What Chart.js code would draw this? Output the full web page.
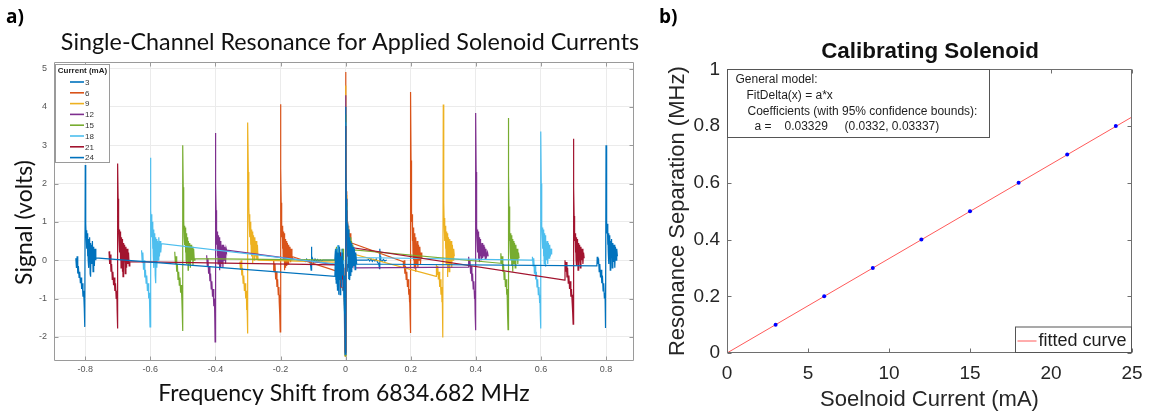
<!DOCTYPE html>
<html><head><meta charset="utf-8">
<script src="https://cdn.jsdelivr.net/npm/chart.js@4.4.1/dist/chart.umd.min.js"></script>
<style>
html,body{margin:0;padding:0;background:#fff;}
body{width:1160px;height:418px;position:relative;overflow:hidden;}
#wrapA{position:absolute;left:0;top:0;width:696px;height:418px;}
#wrapB{position:absolute;left:650px;top:0;width:510px;height:418px;}
.lab{position:absolute;font-family:'Open Sans',sans-serif;font-weight:700;font-size:19px;line-height:22px;color:#000;}
</style></head><body>
<div id="wrapB"><canvas id="cB"></canvas></div>
<div id="wrapA"><canvas id="cA"></canvas></div>
<div class="lab" style="left:6px;top:5px">a)</div>
<div class="lab" style="left:659px;top:5px">b)</div>
<script>
// ---------------- data: panel a ----------------
const currents = [3, 6, 9, 12, 15, 18, 21, 24];
const xTicksA = [-0.8, -0.6, -0.4, -0.2, 0, 0.2, 0.4, 0.6, 0.8];
const xTickLabelsA = ['-0.8', '-0.6', '-0.4', '-0.2', '0', '0.2', '0.4', '0.6', '0.8'];
const yTicksA = [-2, -1, 0, 1, 2, 3, 4, 5];
const yTickLabelsA = ['-2', '-1', '0', '1', '2', '3', '4', '5'];

const s3 = [
 [-0.128,0.02],[-0.124,-0.03],[-0.120,0.03],[-0.116,-0.02],[-0.112,0.0],[-0.108,-0.1],[-0.106,-0.26],[-0.105,0.35],[-0.104,0.1],[-0.102,0.05],[-0.098,-0.05],[-0.094,0.03],[-0.090,-0.02],[-0.086,0.02],[-0.082,-0.03],[-0.078,0.01],[-0.074,-0.02],[-0.070,0.0],
 [-0.033,0.0],[-0.031,0.3],[-0.029,-0.5],[-0.027,0.2],[-0.025,-0.7],[-0.023,0.39],[-0.021,-0.4],[-0.019,0.1],[-0.017,-0.9],[-0.015,0.2],[-0.013,-0.6],[-0.011,0.3],[-0.009,-0.8],[-0.007,0.0],[-0.005,-0.5],[-0.004,-0.96],[-0.003,-1.5],[-0.002,-2.0],[-0.001,-2.48],[0.000,2.28],[0.001,1.5],[0.002,1.0],[0.003,0.5],[0.004,0.9],[0.005,0.2],[0.006,0.8],[0.007,-0.3],[0.008,0.7],[0.009,-0.5],[0.010,0.6],[0.011,-0.2],[0.012,0.5],[0.014,-0.4],[0.016,0.4],[0.018,-0.2],[0.020,0.3],[0.022,0.0],[0.024,0.2],[0.026,-0.1],[0.028,0.1],[0.030,0.0],
 [0.066,0.0],[0.070,0.02],[0.074,-0.02],[0.078,0.03],[0.082,-0.03],[0.086,0.02],[0.090,-0.02],[0.094,0.03],[0.098,-0.05],[0.102,-0.1],[0.104,-0.22],[0.105,0.3],[0.106,0.1],[0.108,0.0],[0.112,-0.03],[0.116,0.02],[0.120,-0.02],[0.126,0.0]
];
const s6 = [
 [-0.223,-0.26],[-0.221,0.0],[-0.219,-0.3],[-0.217,-0.1],[-0.215,-0.5],[-0.213,-0.3],[-0.211,-0.7],[-0.209,-0.5],[-0.207,-0.9],[-0.205,-0.7],[-0.204,-1.1],[-0.203,-0.9],[-0.202,-1.4],[-0.201,-1.87],[-0.200,4.07],[-0.199,2.4],[-0.198,1.5],[-0.197,0.96],[-0.196,0.6],[-0.195,0.9],[-0.194,0.3],[-0.193,0.85],[-0.192,0.1],[-0.191,0.75],[-0.190,0.0],[-0.189,0.7],[-0.188,-0.26],[-0.187,0.6],[-0.186,-0.1],[-0.185,0.55],[-0.184,-0.2],[-0.183,0.5],[-0.181,-0.15],[-0.179,0.45],[-0.177,-0.1],[-0.175,0.4],[-0.173,0.0],[-0.171,0.35],[-0.169,-0.05],[-0.167,0.3],[-0.165,0.0],[-0.163,0.09],
 [-0.030,-0.28],[-0.028,0.1],[-0.026,-0.4],[-0.024,0.2],[-0.022,-0.6],[-0.020,0.1],[-0.018,-0.5],[-0.016,0.2],[-0.014,-0.7],[-0.012,0.0],[-0.010,-0.6],[-0.008,-0.2],[-0.006,-0.9],[-0.004,-0.6],[-0.003,-1.4],[-0.002,-2.0],[-0.001,-2.5],[0.000,4.91],[0.001,2.9],[0.002,1.8],[0.003,1.2],[0.004,1.4],[0.005,0.7],[0.006,1.0],[0.007,0.4],[0.008,0.9],[0.009,0.2],[0.010,0.8],[0.012,0.3],[0.014,0.7],[0.016,0.4],[0.018,0.45],
 [0.177,-0.04],[0.178,-0.2],[0.180,0.0],[0.182,-0.35],[0.184,-0.15],[0.186,-0.5],[0.188,-0.3],[0.190,-0.7],[0.192,-0.5],[0.194,-0.9],[0.195,-0.75],[0.196,-1.1],[0.197,-0.9],[0.198,-1.45],[0.199,-1.9],[0.200,4.39],[0.201,2.6],[0.202,1.6],[0.203,1.0],[0.204,1.2],[0.205,0.5],[0.206,0.9],[0.207,0.2],[0.208,0.85],[0.209,0.0],[0.210,0.75],[0.211,-0.2],[0.212,0.7],[0.213,-0.1],[0.214,0.6],[0.215,-0.3],[0.216,0.55],[0.218,-0.1],[0.220,0.5],[0.222,-0.2],[0.224,0.4],[0.226,0.0],[0.228,0.35],[0.230,-0.1],[0.232,0.2],[0.234,0.05]
];
const s9 = [
 [-0.325,-0.04],[-0.323,-0.25],[-0.321,0.0],[-0.319,-0.4],[-0.317,-0.2],[-0.315,-0.6],[-0.313,-0.4],[-0.311,-0.8],[-0.309,-0.6],[-0.307,-1.0],[-0.305,-0.8],[-0.304,-1.3],[-0.303,-1.1],[-0.302,-1.6],[-0.301,-1.91],[-0.300,3.59],[-0.299,2.3],[-0.298,1.6],[-0.297,1.39],[-0.296,0.9],[-0.295,1.2],[-0.294,0.6],[-0.293,1.0],[-0.292,0.4],[-0.291,0.9],[-0.290,0.2],[-0.289,0.8],[-0.288,0.1],[-0.287,0.75],[-0.286,-0.09],[-0.285,0.7],[-0.284,0.2],[-0.283,0.65],[-0.281,0.0],[-0.279,0.6],[-0.277,0.1],[-0.275,0.5],[-0.273,0.0],[-0.271,0.4],[-0.269,0.0],
 [-0.030,-0.05],[-0.028,0.2],[-0.026,-0.3],[-0.024,0.1],[-0.022,-0.5],[-0.020,0.2],[-0.018,-0.6],[-0.016,0.0],[-0.014,-0.4],[-0.012,-0.1],[-0.010,-0.7],[-0.008,-0.3],[-0.006,-0.9],[-0.004,-0.6],[-0.003,-1.3],[-0.002,-1.9],[-0.001,-2.5],[0.000,4.56],[0.001,2.7],[0.002,1.7],[0.003,1.1],[0.004,1.3],[0.005,0.6],[0.006,0.9],[0.007,0.2],[0.008,0.8],[0.009,0.0],[0.010,0.6],[0.012,0.1],[0.014,0.5],[0.016,0.0],[0.018,0.4],[0.020,0.1],[0.022,0.3],[0.024,0.16],
 [0.278,-0.42],[0.279,-0.1],[0.281,-0.37],[0.283,-0.15],[0.285,-0.5],[0.287,-0.3],[0.289,-0.7],[0.291,-0.5],[0.293,-0.9],[0.295,-0.7],[0.296,-1.1],[0.297,-0.9],[0.298,-1.5],[0.299,-2.02],[0.300,4.06],[0.301,2.4],[0.302,1.5],[0.303,0.9],[0.304,1.1],[0.305,0.5],[0.306,0.9],[0.307,0.3],[0.308,0.8],[0.309,-0.1],[0.310,0.75],[0.311,0.0],[0.312,0.7],[0.313,-0.44],[0.314,0.65],[0.315,-0.2],[0.316,0.6],[0.318,-0.3],[0.320,0.55],[0.322,-0.1],[0.324,0.5],[0.326,-0.2],[0.328,0.4],[0.330,0.0],[0.332,0.3],[0.334,0.1]
];
const s12 = [
 [-0.427,0.13],[-0.425,-0.15],[-0.423,0.05],[-0.421,-0.35],[-0.419,-0.15],[-0.417,-0.55],[-0.415,-0.35],[-0.413,-0.75],[-0.411,-0.55],[-0.409,-0.95],[-0.407,-0.75],[-0.405,-1.2],[-0.403,-1.0],[-0.402,-1.5],[-0.401,-2.13],[-0.400,3.32],[-0.399,2.0],[-0.398,1.3],[-0.397,0.78],[-0.396,0.4],[-0.395,0.75],[-0.394,0.1],[-0.393,0.7],[-0.392,-0.1],[-0.391,0.65],[-0.390,0.0],[-0.389,0.6],[-0.388,-0.26],[-0.387,0.55],[-0.386,-0.1],[-0.385,0.5],[-0.384,-0.2],[-0.383,0.45],[-0.381,-0.1],[-0.379,0.4],[-0.377,-0.2],[-0.375,0.4],[-0.373,0.0],[-0.371,0.35],[-0.369,-0.1],[-0.367,0.3],[-0.366,0.26],
 [-0.020,-0.13],[-0.018,0.2],[-0.016,-0.4],[-0.014,0.1],[-0.012,-0.6],[-0.010,0.0],[-0.008,-0.5],[-0.006,-0.9],[-0.004,-0.6],[-0.003,-1.3],[-0.002,-1.8],[-0.001,-2.45],[0.000,4.30],[0.001,2.5],[0.002,1.6],[0.003,1.0],[0.004,1.3],[0.005,0.5],[0.006,0.9],[0.007,0.1],[0.008,0.8],[0.009,-0.2],[0.010,0.6],[0.012,-0.1],[0.014,0.5],[0.016,-0.2],[0.018,0.3],[0.020,-0.1],[0.022,0.2],[0.025,-0.1],[0.028,0.1],[0.030,-0.2],
 [0.377,-0.18],[0.378,0.09],[0.380,-0.15],[0.382,0.0],[0.384,-0.35],[0.386,-0.15],[0.388,-0.55],[0.390,-0.35],[0.392,-0.75],[0.394,-0.55],[0.396,-1.0],[0.397,-0.8],[0.398,-1.4],[0.399,-1.83],[0.400,3.84],[0.401,2.3],[0.402,1.4],[0.403,0.87],[0.404,0.5],[0.405,0.8],[0.406,0.2],[0.407,0.75],[0.408,0.04],[0.409,0.7],[0.410,0.1],[0.411,0.6],[0.412,-0.05],[0.413,0.55],[0.414,0.1],[0.415,0.5],[0.417,0.0],[0.419,0.45],[0.421,0.05],[0.423,0.4],[0.425,0.1],[0.427,0.35],[0.429,0.04],[0.431,0.3],[0.433,0.1],[0.436,0.2],[0.438,0.1]
];
const s15 = [
 [-0.525,0.22],[-0.523,-0.1],[-0.521,0.1],[-0.519,-0.3],[-0.517,-0.1],[-0.515,-0.5],[-0.513,-0.3],[-0.511,-0.65],[-0.509,-0.45],[-0.507,-0.85],[-0.505,-0.65],[-0.503,-1.05],[-0.502,-1.35],[-0.501,-1.85],[-0.500,3.0],[-0.499,1.9],[-0.498,1.3],[-0.497,1.04],[-0.496,0.6],[-0.495,0.9],[-0.494,0.4],[-0.493,0.85],[-0.492,0.2],[-0.491,0.75],[-0.490,0.0],[-0.489,0.7],[-0.488,-0.1],[-0.487,0.6],[-0.486,0.1],[-0.485,0.55],[-0.484,-0.26],[-0.483,0.5],[-0.481,-0.1],[-0.479,0.45],[-0.477,-0.2],[-0.475,0.4],[-0.473,0.0],[-0.471,0.35],[-0.469,-0.15],[-0.467,0.3],[-0.465,0.0],[-0.463,0.04],
 [-0.030,0.0],[-0.028,0.35],[-0.026,-0.3],[-0.024,0.2],[-0.022,-0.5],[-0.020,0.3],[-0.018,-0.4],[-0.016,0.15],[-0.014,-0.6],[-0.012,0.1],[-0.010,-0.5],[-0.008,0.3],[-0.007,-0.2],[-0.006,-0.8],[-0.004,-0.5],[-0.003,-1.2],[-0.002,-1.7],[-0.001,-2.5],[0.000,3.8],[0.001,2.2],[0.002,1.5],[0.003,1.0],[0.004,1.2],[0.005,0.5],[0.006,0.9],[0.007,0.2],[0.008,0.8],[0.009,0.0],[0.010,0.7],[0.012,0.1],[0.014,0.6],[0.016,0.0],[0.018,0.5],[0.020,0.1],[0.022,0.4],[0.024,0.2],[0.026,0.27],
 [0.476,-0.08],[0.477,0.18],[0.479,-0.1],[0.481,0.1],[0.483,-0.3],[0.485,-0.1],[0.487,-0.5],[0.489,-0.3],[0.491,-0.7],[0.493,-0.5],[0.495,-0.9],[0.496,-0.75],[0.497,-1.1],[0.498,-1.4],[0.499,-1.81],[0.500,3.71],[0.501,2.2],[0.502,1.4],[0.503,0.78],[0.504,0.5],[0.505,0.75],[0.506,0.2],[0.507,0.7],[0.508,0.0],[0.509,0.65],[0.510,-0.15],[0.511,0.6],[0.512,0.1],[0.513,0.55],[0.514,-0.3],[0.515,0.5],[0.517,-0.1],[0.519,0.45],[0.521,-0.2],[0.523,0.4],[0.525,0.0],[0.527,0.3],[0.529,-0.1],[0.531,0.2],[0.533,0.05]
];
const s18 = [
 [-0.627,0.26],[-0.625,-0.05],[-0.623,0.2],[-0.621,-0.25],[-0.619,0.0],[-0.617,-0.45],[-0.615,-0.25],[-0.613,-0.6],[-0.611,-0.4],[-0.609,-0.8],[-0.607,-0.6],[-0.605,-1.0],[-0.603,-0.85],[-0.602,-1.3],[-0.601,-1.74],[-0.600,2.67],[-0.599,1.8],[-0.598,1.3],[-0.597,0.9],[-0.596,1.2],[-0.595,0.6],[-0.594,1.0],[-0.593,0.3],[-0.592,0.9],[-0.591,0.1],[-0.590,0.8],[-0.589,-0.2],[-0.588,0.7],[-0.587,0.0],[-0.586,0.65],[-0.585,-0.4],[-0.584,0.6],[-0.583,-0.6],[-0.582,0.55],[-0.580,-0.2],[-0.578,0.5],[-0.576,0.0],[-0.574,0.6],[-0.572,0.1],[-0.570,0.5],[-0.568,0.2],[-0.566,0.43],
 [-0.030,-0.1],[-0.028,0.3],[-0.026,-0.3],[-0.024,0.39],[-0.022,-0.5],[-0.020,0.2],[-0.018,-0.6],[-0.016,0.1],[-0.014,-0.4],[-0.012,0.25],[-0.010,-0.7],[-0.008,0.0],[-0.006,-0.96],[-0.004,-0.5],[-0.003,-1.3],[-0.002,-1.8],[-0.001,-2.45],[0.000,3.6],[0.001,2.1],[0.002,1.4],[0.003,0.9],[0.004,1.1],[0.005,0.3],[0.006,0.9],[0.007,-0.1],[0.008,0.8],[0.009,-0.3],[0.010,0.7],[0.011,-0.45],[0.012,0.5],[0.014,-0.2],[0.016,0.4],[0.018,-0.1],[0.020,0.3],[0.022,-0.05],[0.024,0.25],[0.026,0.0],[0.028,0.2],[0.030,0.07],
 [0.573,0.0],[0.574,0.09],[0.576,-0.15],[0.578,0.05],[0.580,-0.35],[0.582,-0.15],[0.584,-0.5],[0.586,-0.3],[0.588,-0.7],[0.590,-0.5],[0.592,-0.9],[0.594,-0.7],[0.596,-1.1],[0.597,-0.9],[0.598,-1.4],[0.599,-1.78],[0.600,3.36],[0.601,2.0],[0.602,1.3],[0.603,0.91],[0.604,0.6],[0.605,0.85],[0.606,0.3],[0.607,0.8],[0.608,0.1],[0.609,0.75],[0.610,-0.1],[0.611,0.7],[0.612,0.2],[0.613,0.65],[0.614,-0.17],[0.615,0.55],[0.617,0.0],[0.619,0.5],[0.621,-0.1],[0.623,0.45],[0.625,0.05],[0.627,0.4],[0.629,0.1],[0.631,0.3],[0.633,0.15]
];
const s21 = [
 [-0.727,0.23],[-0.725,-0.1],[-0.723,0.15],[-0.721,-0.3],[-0.719,-0.1],[-0.717,-0.5],[-0.715,-0.3],[-0.713,-0.65],[-0.711,-0.45],[-0.709,-0.8],[-0.707,-0.6],[-0.705,-1.0],[-0.703,-0.8],[-0.702,-1.3],[-0.701,-1.78],[-0.700,2.52],[-0.699,1.6],[-0.698,1.0],[-0.697,0.87],[-0.696,0.5],[-0.695,0.8],[-0.694,0.2],[-0.693,0.75],[-0.692,0.0],[-0.691,0.7],[-0.690,-0.2],[-0.689,0.6],[-0.688,0.1],[-0.687,0.55],[-0.686,-0.3],[-0.685,0.5],[-0.684,-0.43],[-0.683,0.45],[-0.681,-0.1],[-0.679,0.4],[-0.677,-0.35],[-0.675,0.35],[-0.673,-0.2],[-0.671,0.3],[-0.669,-0.1],[-0.667,0.2],[-0.665,-0.15],[-0.663,-0.04],
 [-0.030,-0.12],[-0.028,0.2],[-0.026,-0.4],[-0.024,0.15],[-0.022,-0.6],[-0.020,0.1],[-0.018,-0.5],[-0.016,0.2],[-0.014,-0.7],[-0.012,0.0],[-0.010,-0.5],[-0.008,-0.2],[-0.006,-0.8],[-0.004,-0.6],[-0.003,-1.2],[-0.002,-1.6],[-0.001,-2.4],[0.000,3.5],[0.001,2.0],[0.002,1.3],[0.003,0.8],[0.004,1.0],[0.005,0.4],[0.006,0.8],[0.007,0.1],[0.008,0.7],[0.009,-0.2],[0.010,0.6],[0.011,-0.1],[0.012,0.5],[0.014,0.0],[0.016,0.45],[0.018,0.33],
 [0.673,-0.52],[0.674,0.0],[0.676,-0.3],[0.678,-0.05],[0.680,-0.45],[0.682,-0.2],[0.684,-0.6],[0.686,-0.4],[0.688,-0.75],[0.690,-0.55],[0.692,-0.95],[0.694,-0.75],[0.696,-1.1],[0.697,-0.9],[0.698,-1.35],[0.699,-1.67],[0.700,3.17],[0.701,1.9],[0.702,1.15],[0.703,0.78],[0.704,0.5],[0.705,0.7],[0.706,0.2],[0.707,0.65],[0.708,0.0],[0.709,0.6],[0.710,-0.15],[0.711,0.5],[0.712,0.1],[0.713,0.55],[0.714,-0.26],[0.715,0.45],[0.717,-0.1],[0.719,0.4],[0.721,-0.2],[0.723,0.35],[0.725,0.0],[0.727,0.3],[0.729,-0.1],[0.731,0.2],[0.733,0.05]
];
const s24 = [
 [-0.829,0.05],[-0.827,-0.2],[-0.825,0.1],[-0.823,-0.35],[-0.821,-0.15],[-0.819,-0.45],[-0.817,-0.3],[-0.815,-0.6],[-0.813,-0.45],[-0.811,-0.75],[-0.809,-0.6],[-0.807,-0.95],[-0.805,-0.8],[-0.803,-1.25],[-0.802,-1.1],[-0.801,-1.74],[-0.800,2.48],[-0.799,1.5],[-0.798,0.95],[-0.797,0.6],[-0.796,0.78],[-0.795,0.3],[-0.794,0.7],[-0.793,0.1],[-0.792,0.65],[-0.791,0.0],[-0.790,0.55],[-0.789,-0.2],[-0.788,0.5],[-0.787,-0.05],[-0.786,0.6],[-0.785,-0.35],[-0.784,0.45],[-0.783,-0.43],[-0.782,0.4],[-0.780,-0.1],[-0.778,0.5],[-0.776,-0.3],[-0.774,0.35],[-0.772,-0.15],[-0.770,0.3],[-0.768,0.0],[-0.767,0.06],
 [-0.033,-0.42],[-0.031,0.25],[-0.029,-0.6],[-0.027,0.3],[-0.025,-0.8],[-0.023,0.2],[-0.021,-0.9],[-0.019,0.35],[-0.017,-0.5],[-0.015,0.1],[-0.013,-0.7],[-0.011,0.2],[-0.009,-0.4],[-0.007,-0.1],[-0.005,-0.9],[-0.004,-0.4],[-0.003,-1.4],[-0.002,-1.0],[-0.001,-2.45],[0.000,4.0],[0.001,2.28],[0.002,1.6],[0.003,0.9],[0.004,1.2],[0.005,0.5],[0.006,0.96],[0.007,0.1],[0.008,0.8],[0.009,-0.2],[0.010,0.7],[0.011,-0.4],[0.012,0.6],[0.013,-0.52],[0.015,0.5],[0.017,-0.3],[0.019,0.45],[0.021,-0.2],[0.023,0.35],[0.025,-0.15],[0.027,0.3],[0.029,-0.25],[0.031,0.2],[0.034,-0.1],
 [0.772,-0.15],[0.773,0.09],[0.775,-0.1],[0.777,0.05],[0.779,-0.3],[0.781,-0.1],[0.783,-0.45],[0.785,-0.25],[0.787,-0.6],[0.789,-0.4],[0.791,-0.8],[0.793,-0.6],[0.795,-1.0],[0.797,-0.85],[0.798,-1.3],[0.799,-1.77],[0.800,3.0],[0.801,1.8],[0.802,1.1],[0.803,0.7],[0.804,0.95],[0.805,0.4],[0.806,0.75],[0.807,0.2],[0.808,0.7],[0.809,-0.1],[0.810,0.6],[0.811,0.05],[0.812,0.65],[0.813,-0.26],[0.814,0.5],[0.815,0.1],[0.817,0.55],[0.819,-0.2],[0.821,0.45],[0.823,-0.05],[0.825,0.4],[0.827,-0.2],[0.829,0.35],[0.831,0.0],[0.833,0.3],[0.835,0.1]
];

// ---------------- data: panel b ----------------
const calCurrent = [3, 6, 9, 12, 15, 18, 21, 24];
const calSeparation = [0.1, 0.2, 0.3, 0.4, 0.5, 0.6, 0.7, 0.8];
const fitLine = [[0, 0], [25, 0.83225]];
const xTicksB = [0, 5, 10, 15, 20, 25];
const xTickLabelsB = ['0', '5', '10', '15', '20', '25'];
const yTicksB = [0, 0.2, 0.4, 0.6, 0.8, 1];
const yTickLabelsB = ['0', '0.2', '0.4', '0.6', '0.8', '1'];
const fitText = ['General model:', 'FitDelta(x) = a*x', 'Coefficients (with 95% confidence bounds):', 'a =', '0.03329', '(0.0332, 0.03337)'];

// ---------------- styles ----------------
const seriesColors = ['#0072BD', '#D95319', '#EDB120', '#7E2F8E', '#77AC30', '#4DBEEE', '#A2142F', '#0072BD'];
const ARIAL = "'Liberation Sans', Arial, sans-serif";
const TITLEFONT = "Lato, 'Open Sans', sans-serif";

const seriesA = [s3, s6, s9, s12, s15, s18, s21, s24];

// titles drawn at chosen centres (Chart.js' own titles centre on the padded box / axis)
const titleAt = {
  id: 'titleAt',
  afterDraw(chart, args, o) {
    const ctx = chart.ctx;
    o.items.forEach(t => {
      ctx.save();
      ctx.font = t.font; ctx.fillStyle = t.color;
      ctx.textAlign = 'center'; ctx.textBaseline = 'middle';
      ctx.translate(t.x, t.y);
      if (t.rot) ctx.rotate(t.rot);
      ctx.fillText(t.text, 0, 0);
      ctx.restore();
    });
  }
};

const boxPlugin = {
  id: 'box',
  afterDatasetsDraw(chart, args, o) {
    const {ctx, chartArea: a} = chart;
    const xs = chart.scales.x, ys = chart.scales.y;
    const L = Math.round(a.left) + 0.5, R = Math.round(a.right) - 0.5;
    const T = Math.round(a.top) + 0.5, B = Math.round(a.bottom) - 0.5;
    ctx.save();
    ctx.strokeStyle = o.color; ctx.lineWidth = 1;
    ctx.beginPath();
    ctx.rect(L, T, R - L, B - T);
    o.xTicks.forEach(v => {
      const p = Math.round(xs.getPixelForValue(v)) + 0.5;
      ctx.moveTo(p, B); ctx.lineTo(p, B - o.len);
      ctx.moveTo(p, T); ctx.lineTo(p, T + o.len);
    });
    o.yTicks.forEach(v => {
      const p = Math.round(ys.getPixelForValue(v)) + 0.5;
      ctx.moveTo(L, p); ctx.lineTo(L + o.len, p);
      ctx.moveTo(R, p); ctx.lineTo(R - o.len, p);
    });
    ctx.stroke();
    ctx.restore();
  }
};

const legendA = {
  id: 'legendA',
  afterDraw(chart) {
    const {ctx, chartArea: a} = chart;
    const x0 = Math.round(a.left) + 1.5, y0 = Math.round(a.top) + 2.5;
    ctx.save();
    ctx.fillStyle = '#fff'; ctx.strokeStyle = '#9a9a9a'; ctx.lineWidth = 1;
    ctx.fillRect(x0, y0, 54, 98); ctx.strokeRect(x0, y0, 54, 98);
    ctx.fillStyle = '#222'; ctx.font = 'bold 8px ' + ARIAL;
    ctx.textAlign = 'center'; ctx.textBaseline = 'middle';
    ctx.fillText('Current (mA)', x0 + 27, y0 + 6);
    ctx.textAlign = 'left'; ctx.font = '8px ' + ARIAL;
    currents.forEach((c, i) => {
      const y = y0 + 17.5 + 10.8 * i;
      ctx.strokeStyle = seriesColors[i]; ctx.lineWidth = 1.6;
      ctx.beginPath(); ctx.moveTo(x0 + 14.5, y); ctx.lineTo(x0 + 28.5, y); ctx.stroke();
      ctx.fillStyle = '#333';
      ctx.fillText(String(c), x0 + 29.5, y + 0.5);
    });
    ctx.restore();
  }
};

const annotB = {
  id: 'annotB',
  afterDraw(chart) {
    const {ctx, chartArea: a} = chart;
    const x0 = Math.round(a.left) + 0.5, y0 = Math.round(a.top) + 0.5;
    ctx.save();
    ctx.fillStyle = '#fff'; ctx.strokeStyle = '#555'; ctx.lineWidth = 1;
    ctx.fillRect(x0, y0, 262, 68); ctx.strokeRect(x0, y0, 262, 68);
    ctx.fillStyle = '#1e1e1e'; ctx.font = '12px ' + ARIAL;
    ctx.textAlign = 'left'; ctx.textBaseline = 'middle';
    ctx.fillText(fitText[0], x0 + 8, y0 + 10);
    ctx.fillText(fitText[1], x0 + 19, y0 + 26);
    ctx.fillText(fitText[2], x0 + 20, y0 + 42);
    ctx.fillText(fitText[3], x0 + 27, y0 + 57);
    ctx.fillText(fitText[4], x0 + 57, y0 + 57);
    ctx.fillText(fitText[5], x0 + 117, y0 + 57);
    const R = Math.round(a.right) - 0.5, B = Math.round(a.bottom) - 0.5;
    ctx.fillStyle = '#fff';
    ctx.fillRect(R - 116, B - 25.5, 116, 25.5); ctx.strokeRect(R - 116, B - 25.5, 116, 25.5);
    ctx.strokeStyle = '#ff5a5a'; ctx.lineWidth = 1;
    ctx.beginPath(); ctx.moveTo(R - 114, B - 11.5); ctx.lineTo(R - 95, B - 11.5); ctx.stroke();
    ctx.fillStyle = '#1e1e1e'; ctx.font = '18px ' + ARIAL;
    ctx.fillText('fitted curve', R - 93, B - 11);
    ctx.restore();
  }
};

new Chart(document.getElementById('cA'), {
  type: 'scatter',
  data: {
    datasets: currents.map((c, i) => ({
      label: String(c),
      data: seriesA[i].map(p => ({x: p[0], y: p[1]})),
      showLine: true, borderColor: seriesColors[i], borderWidth: 1.2,
      pointRadius: 0, pointHoverRadius: 0, fill: false, tension: 0,
      order: currents.length - i
    }))
  },
  options: {
    animation: false, responsive: true, maintainAspectRatio: false,
    events: [],
    layout: {padding: {left: 0, right: 62, top: 62, bottom: 0}},
    plugins: {
      legend: {display: false}, tooltip: {enabled: false}, title: {display: false},
      titleAt: {items: [
        {text: 'Single-Channel Resonance for Applied Solenoid Currents', font: '23.3px ' + TITLEFONT, color: '#111', x: 350, y: 42},
        {text: 'Signal (volts)', font: '23px ' + TITLEFONT, color: '#111', x: 25, y: 222.5, rot: -Math.PI / 2}
      ]},
      box: {color: '#9a9a9a', len: 4, xTicks: xTicksA, yTicks: yTicksA}
    },
    scales: {
      x: {
        type: 'linear', min: -0.896, max: 0.886,
        afterBuildTicks: s => { s.ticks = xTicksA.map(v => ({value: v})); },
        afterFit: s => { s.height = 57; },
        ticks: {font: {family: ARIAL, size: 9}, color: '#555', padding: 3,
          callback: (v, i) => xTickLabelsA[i]},
        grid: {color: '#ebebeb', drawTicks: false}, border: {display: false},
        title: {display: true, text: 'Frequency Shift from 6834.682 MHz',
          font: {family: TITLEFONT, size: 23}, color: '#111', padding: {top: 0, bottom: 10.2}}
      },
      y: {
        type: 'linear', min: -2.63, max: 5.17,
        afterBuildTicks: s => { s.ticks = yTicksA.map(v => ({value: v})); },
        afterFit: s => { s.width = 54; },
        ticks: {font: {family: ARIAL, size: 9}, color: '#555', padding: 7,
          callback: (v, i) => yTickLabelsA[i]},
        grid: {color: '#ebebeb', drawTicks: false}, border: {display: false},
        title: {display: false}
      }
    }
  },
  plugins: [boxPlugin, legendA, titleAt]
});

new Chart(document.getElementById('cB'), {
  type: 'scatter',
  data: {
    datasets: [
      {label: 'data', data: calCurrent.map((c, i) => ({x: c, y: calSeparation[i]})),
        showLine: false, pointRadius: 2, pointBackgroundColor: '#0000ff', pointBorderWidth: 0,
        pointBorderColor: '#0000ff', order: 1},
      {label: 'fitted curve', data: fitLine.map(p => ({x: p[0], y: p[1]})),
        showLine: true, borderColor: '#ff5a5a', borderWidth: 1, pointRadius: 0, order: 2}
    ]
  },
  options: {
    animation: false, responsive: true, maintainAspectRatio: false,
    events: [],
    layout: {padding: {left: 0, right: 28, top: 69.4, bottom: 0}},
    plugins: {
      legend: {display: false}, tooltip: {enabled: false}, title: {display: false},
      titleAt: {items: [
        {text: 'Calibrating Solenoid', font: 'bold 22.4px ' + ARIAL, color: '#111', x: 280, y: 52}
      ]},
      box: {color: '#6e6e6e', len: 4, xTicks: xTicksB, yTicks: yTicksB}
    },
    scales: {
      x: {
        type: 'linear', min: 0, max: 25,
        afterBuildTicks: s => { s.ticks = xTicksB.map(v => ({value: v})); },
        afterFit: s => { s.height = 65; },
        ticks: {font: {family: ARIAL, size: 19}, color: '#262626', padding: 9,
          callback: (v, i) => xTickLabelsB[i]},
        grid: {display: false, drawTicks: false}, border: {display: false},
        title: {display: true, text: 'Soelnoid Current (mA)',
          font: {family: ARIAL, size: 22}, color: '#262626', padding: {top: 0, bottom: 4.8}}
      },
      y: {
        type: 'linear', min: 0, max: 1,
        afterBuildTicks: s => { s.ticks = yTicksB.map(v => ({value: v})); },
        afterFit: s => { s.width = 77; },
        ticks: {font: {family: ARIAL, size: 19}, color: '#262626', padding: 7,
          callback: (v, i) => yTickLabelsB[i]},
        grid: {display: false, drawTicks: false}, border: {display: false},
        title: {display: true, text: 'Resonance Separation (MHz)',
          font: {family: ARIAL, size: 22}, color: '#262626', padding: {top: 14.3, bottom: 0}}
      }
    }
  },
  plugins: [boxPlugin, annotB, titleAt]
});
</script>
</body></html>
